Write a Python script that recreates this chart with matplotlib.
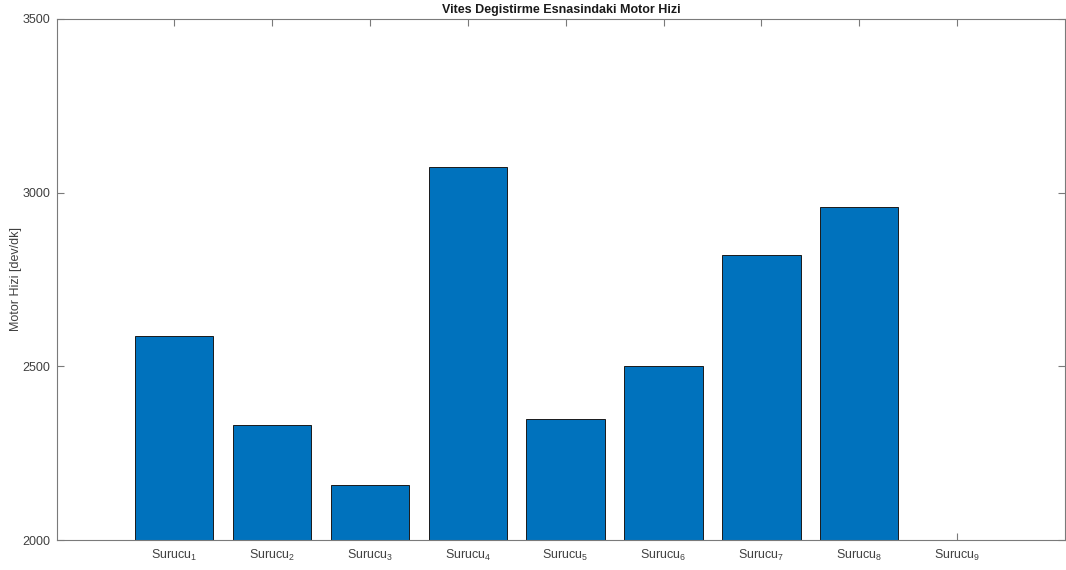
import matplotlib
matplotlib.use("Agg")
import matplotlib.pyplot as plt

plt.rcParams['font.family'] = ['Liberation Sans', 'DejaVu Sans']
plt.rcParams['mathtext.default'] = 'regular'

drivers = [1, 2, 3, 4, 5, 6, 7, 8, 9]
speeds = [2587, 2331, 2157, 3074, 2349, 2500, 2820, 2959, 0]
tick_labels = [f"Surucu$_{{{d}}}$" for d in drivers]
y_ticks = [2000, 2500, 3000, 3500]

fig = plt.figure(figsize=(10.66, 5.70), dpi=100)
ax = fig.add_axes([0.0539, 0.0526, 0.9451, 0.9141])

ax.bar(drivers, speeds, width=0.8, color='#0072BD', edgecolor='#1a1a1a',
       linewidth=0.7, zorder=2)

ax.set_xlim(-0.19, 10.1)
ax.set_ylim(2000, 3500)
ax.set_xticks(drivers)
ax.set_xticklabels(tick_labels)
ax.set_yticks(y_ticks)

axis_col = '#7a7a7a'
for s in ax.spines.values():
    s.set_color(axis_col)
    s.set_linewidth(0.8)
ax.tick_params(direction='in', length=5, width=0.8, color=axis_col,
               labelcolor='#404040', labelsize=9, top=True, right=True,
               pad=5)
ax.tick_params(axis='x', pad=6)

ax.set_ylabel('Motor Hizi [dev/dk]', fontsize=9, color='#404040')
ax.yaxis.set_label_coords(-0.035, 0.5)
ax.set_title('Vites Degistirme Esnasindaki Motor Hizi', fontsize=9,
             fontweight='bold', color='#1a1a1a', pad=4)

fig.savefig('out.png', dpi=100)
